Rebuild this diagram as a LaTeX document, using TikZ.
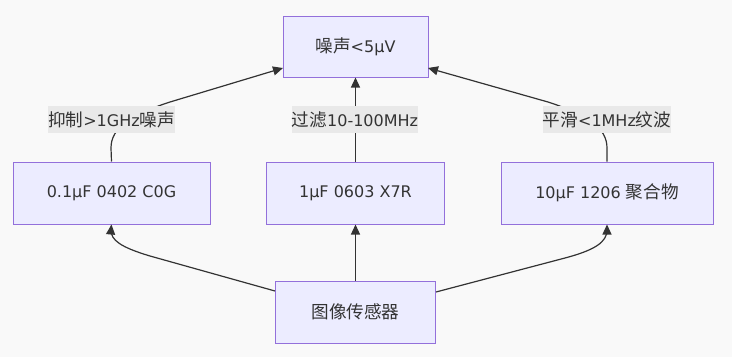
\documentclass[tikz,border=0pt]{standalone}
\usepackage{fontspec}
\setmainfont{DejaVu Sans}
\newfontfamily\cjk[Scale=1.1]{Noto Sans CJK SC}
\usetikzlibrary{arrows.meta}
\definecolor{bgc}{HTML}{F9F9F9}
\definecolor{nfill}{HTML}{ECECFF}
\definecolor{nstroke}{HTML}{9370DB}
\definecolor{ink}{HTML}{333333}
\definecolor{lblbg}{HTML}{E9E9E9}
\tikzset{
  box/.style={draw=nstroke, fill=nfill, line width=1pt, rectangle, inner sep=0pt,
    minimum height=62pt, text=ink, font=\fontsize{16}{19}\selectfont},
  lbl/.style={fill=lblbg, inner sep=0pt, minimum height=27pt, text=ink,
    font=\fontsize{16}{19}\selectfont},
  edge/.style={draw=ink, line width=1.2pt, -{Triangle[length=10pt,width=9pt]}},
}
\begin{document}
\begin{tikzpicture}[x=1pt,y=-1pt]
\fill[bgc] (0,0) rectangle (732,357);
\useasboundingbox (0,0) rectangle (732,357);
\node[box, minimum width=145pt, minimum height=61pt] (top) at (355.5,46.5) {{\cjk 噪声}<5μV};
\node[box, minimum width=197pt] (a) at (111.5,193) {0.1μF 0402 C0G};
\node[box, minimum width=178pt] (b) at (355.5,193) {1μF 0603 X7R};
\node[box, minimum width=212pt] (c) at (607,193) {10μF 1206 {\cjk 聚合物}};
\node[box, minimum width=160pt] (s) at (355.5,312) {\cjk 图像传感器};
\coordinate (tl) at (283,68);
\coordinate (tr) at (428,68);
\coordinate (sl) at (275,291);
\coordinate (sr) at (436,292);
% edges from capacitors to top
\draw[edge] (a.north) -- (111,148) .. controls (111,128) and (130,115) .. (170,102) -- (tl);
\draw[edge] (b.north) -- (top.south);
\draw[edge] (c.north) -- (607,148) .. controls (607,128) and (588,115) .. (548,102) -- (tr);
% edges from sensor to capacitors
\draw[edge] (sl) -- (150,256) .. controls (120,247) and (111,240) .. (111,230) -- (a.south);
\draw[edge] (s.north) -- (b.south);
\draw[edge] (sr) -- (565,258) .. controls (595,250) and (607,242) .. (607,230) -- (c.south);
% labels
\node[lbl, minimum width=125pt] (l1) at (111.5,119.5) {{\cjk 抑制}>1GHz{\cjk 噪声}};
\node[lbl, minimum width=124pt] (l2) at (355,119.5) {{\cjk 过滤}10-100MHz};
\node[lbl, minimum width=126pt] (l3) at (607,119.5) {{\cjk 平滑}<1MHz{\cjk 纹波}};
\end{tikzpicture}
\end{document}
